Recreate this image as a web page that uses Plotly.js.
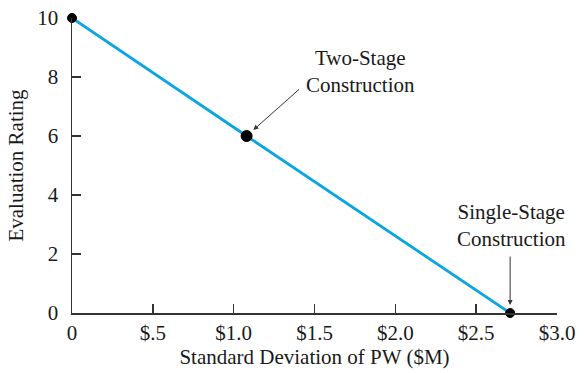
<!DOCTYPE html>
<html>
<head>
<meta charset="utf-8">
<script src="https://cdn.plot.ly/plotly-3.0.1.min.js"></script>
<style>html,body{margin:0;padding:0;background:#fff;}#chart{width:584px;height:373px;}</style>
</head>
<body>
<div id="chart"></div>
<script>
// Data
const stdDevPW = [0, 1.08, 2.71];          // $M
const evalRating = [10, 6, 0];
const pointLabels = ["", "Two-Stage<br>Construction", "Single-Stage<br>Construction"];
const xTickVals = [0, 0.5, 1.0, 1.5, 2.0, 2.5, 3.0];
const xTickText = ["0", "$.5", "$1.0", "$1.5", "$2.0", "$2.5", "$3.0"];
const yTickVals = [0, 2, 4, 6, 8, 10];
const yTickText = ["0", "2", "4", "6", "8", "10"];

const FONT = "Liberation Serif, Times New Roman, serif";
const INK = "#1a1a1a";
const AXIS = "#333333";

const lineTrace = {
  x: stdDevPW,
  y: evalRating,
  mode: "lines",
  line: {color: "#0aa5e3", width: 2.8},
  cliponaxis: false,
  hoverinfo: "skip"
};
const pointTrace = {
  x: stdDevPW,
  y: evalRating,
  mode: "markers",
  marker: {color: "#000000", opacity: 1, size: [9, 11, 9], line: {color: "#000000", width: 1}},
  cliponaxis: false,
  hoverinfo: "x+y"
};

const annotations = [
  // text labels
  {x: stdDevPW[1], y: evalRating[1], xref: "x", yref: "y", text: pointLabels[1],
   showarrow: false, xshift: 114, yshift: 65, font: {family: FONT, size: 21, color: INK}},
  {x: stdDevPW[2], y: evalRating[2], xref: "x", yref: "y", text: pointLabels[2],
   showarrow: false, xshift: 1, yshift: 88, font: {family: FONT, size: 21, color: INK}},
  // arrows
  {x: stdDevPW[1], y: evalRating[1], xref: "x", yref: "y", text: "", showarrow: true,
   ax: 54, ay: -48, arrowhead: 2, arrowsize: 1, arrowwidth: 1, arrowcolor: AXIS, standoff: 9},
  {x: stdDevPW[2], y: evalRating[2], xref: "x", yref: "y", text: "", showarrow: true,
   ax: 0, ay: -58, arrowhead: 2, arrowsize: 1, arrowwidth: 1, arrowcolor: AXIS, standoff: 8}
];

const layout = {
  width: 584, height: 373,
  margin: {l: 72, r: 27, t: 18, b: 60, pad: 0},
  paper_bgcolor: "#fff", plot_bgcolor: "#fff",
  showlegend: false,
  font: {family: FONT, size: 21, color: INK},
  xaxis: {
    range: [0, 3], tickvals: xTickVals, ticktext: xTickText,
    ticks: "inside", ticklen: 9, tickwidth: 1.5, tickcolor: AXIS,
    showline: true, linecolor: AXIS, linewidth: 1.5,
    showgrid: false, zeroline: false, fixedrange: true,
    ticklabelstandoff: 0,
    tickfont: {family: FONT, size: 21, color: INK},
    title: {text: "Standard Deviation of PW ($M)", standoff: 0, font: {family: FONT, size: 21, color: INK}}
  },
  yaxis: {
    range: [0, 10], tickvals: yTickVals, ticktext: yTickText,
    ticks: "inside", ticklen: 9, tickwidth: 1.5, tickcolor: AXIS,
    showline: true, linecolor: AXIS, linewidth: 1.5,
    showgrid: false, zeroline: false, fixedrange: true,
    ticklabelstandoff: 8,
    tickfont: {family: FONT, size: 21, color: INK},
    title: {text: "Evaluation Rating", standoff: 8, font: {family: FONT, size: 21, color: INK}}
  },
  annotations: annotations
};

Plotly.newPlot("chart", [lineTrace, pointTrace], layout, {displayModeBar: false, staticPlot: true});
</script>
</body>
</html>
